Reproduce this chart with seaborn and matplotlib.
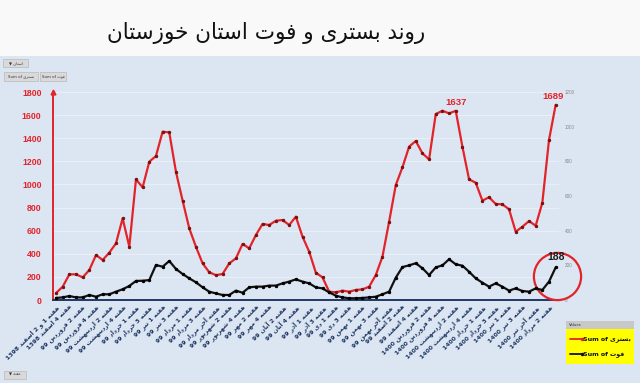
import seaborn as sns
import matplotlib.pyplot as plt
from matplotlib.patches import Rectangle
from matplotlib.transforms import ScaledTranslation

# Weekly admissions (بستری) and deaths (فوت) in Khuzestan
bastari = [60, 115, 222, 222, 196, 260, 389, 346, 410, 490,
           707, 461, 1044, 975, 1197, 1246, 1457, 1450, 1110, 860,
           620, 461, 317, 240, 215, 225, 317, 360, 485, 447,
           562, 658, 649, 686, 692, 649, 721, 548, 418, 236,
           196, 72, 66, 81, 72, 87, 92, 115, 216, 375,
           678, 995, 1148, 1327, 1376, 1269, 1217, 1609, 1638, 1615,
           1637, 1327, 1044, 1015, 860, 889, 831, 828, 785, 591,
           634, 683, 643, 842, 1385, 1689]
fot = [12, 15, 23, 15, 15, 29, 19, 33, 33, 48,
       62, 81, 110, 111, 115, 202, 192, 225, 179, 150,
       125, 102, 73, 48, 38, 29, 29, 54, 42, 73,
       77, 77, 83, 83, 96, 106, 119, 106, 96, 73,
       67, 44, 25, 15, 10, 10, 12, 15, 19, 33,
       48, 129, 190, 200, 212, 183, 144, 188, 200, 235,
       206, 198, 163, 125, 100, 77, 96, 77, 54, 67,
       52, 48, 67, 58, 106, 188]
weeks = list(range(len(bastari)))

# every other week is labelled on the axis
week_labels = ["هفته 1 و 2 اسفند 1398", "هفته 4 اسفند 1398", "هفته 2 فروردین 99", "هفته 4 فروردین 99",
               "هفته 2 اردیبهشت 99", "هفته 4 اردیبهشت 99", "هفته 1 خرداد 99", "هفته 3 خرداد 99",
               "هفته 1 تیر 99", "هفته 3 تیر 99", "هفته 1 مرداد 99", "هفته 3 مرداد 99",
               "هفته آخر مرداد 99", "هفته 2 شهریور 99", "هفته 4 شهریور 99", "هفته 2 مهر 99",
               "هفته 4 مهر 99", "هفته 2 آبان 99", "هفته 4 آبان 99", "هفته 1 آذر 99",
               "هفته 3 آذر 99", "هفته 1 دی 99", "هفته 3 دی 99", "هفته 1 بهمن 99",
               "هفته 3 بهمن 99", "هفته آخر بهمن 99", "هفته 2 اسفند 99", "هفته 4 اسفند 99",
               "هفته 2 فروردین 1400", "هفته 4 فروردین 1400", "هفته 2 اردیبهشت 1400", "هفته 4 اردیبهشت 1400",
               "هفته 1 خرداد 1400", "هفته 3 خرداد 1400", "هفته 1 تیر 1400", "هفته 3 تیر 1400",
               "هفته آخر تیر 1400", "هفته 2 مرداد 1400"]
left_ticks = list(range(0, 1801, 200))
right_ticks = list(range(0, 1201, 200))

title = "روند بستری و فوت استان خوزستان"

# matplotlib has no arabic shaping, so pick presentation forms by hand
# (isolated, final, initial, medial)
FORMS = {
    'ا': '\ufe8d\ufe8e', 'آ': '\ufe81\ufe82', 'د': '\ufea9\ufeaa', 'ذ': '\ufeab\ufeac',
    'ر': '\ufead\ufeae', 'ز': '\ufeaf\ufeb0', 'و': '\ufeed\ufeee',
    'ب': '\ufe8f\ufe90\ufe91\ufe92', 'ت': '\ufe95\ufe96\ufe97\ufe98', 'خ': '\ufea5\ufea6\ufea7\ufea8',
    'س': '\ufeb1\ufeb2\ufeb3\ufeb4', 'ش': '\ufeb5\ufeb6\ufeb7\ufeb8', 'ف': '\ufed1\ufed2\ufed3\ufed4',
    'م': '\ufee1\ufee2\ufee3\ufee4', 'ن': '\ufee5\ufee6\ufee7\ufee8', 'ه': '\ufee9\ufeea\ufeeb\ufeec',
    'ی': '\ufeef\ufef0\ufef3\ufef4',
}


def shape_word(w):
    out = []
    for i, c in enumerate(w):
        f = FORMS[c]
        prev_joins = i > 0 and len(FORMS[w[i - 1]]) == 4
        next_joins = len(f) == 4 and i < len(w) - 1
        out.append(f[int(prev_joins) + 2 * int(next_joins)])
    return ''.join(reversed(out))


def fa(text):
    tokens = [shape_word(t) if t[0] in FORMS else t for t in text.split(' ')]
    return ' '.join(reversed(tokens))


sns.set_theme(style="white")
plt.rcParams['font.family'] = ['DejaVu Sans']

RED = '#e3232a'
NAVY = '#1f3864'
num_font = 'Liberation Sans'

fig = plt.figure(figsize=(6.4, 3.83), dpi=100)
fig.patch.set_facecolor('#f9f9f9')
fig.add_artist(Rectangle((0, 0), 1, 1 - 56 / 383, transform=fig.transFigure,
                         facecolor='#dce6f2', edgecolor='none', zorder=-5))

fig.text(266 / 640, 1 - 33 / 383, fa(title), ha='center', va='center', fontsize=15.5, color='#111111')

ax = fig.add_axes([52.7 / 640, 1 - 300 / 383, 506.3 / 640, 208 / 383])
ax.set_facecolor('none')
ax2 = ax.twinx()

sns.lineplot(x=weeks, y=bastari, ax=ax, color=RED, lw=1.6, marker='o', markersize=1.7,
             markerfacecolor='#7a1010', markeredgecolor='#7a1010', errorbar=None, zorder=3)
sns.lineplot(x=weeks, y=fot, ax=ax2, color='#111111', lw=1.6, marker='o', markersize=1.7,
             markerfacecolor='#000000', markeredgecolor='#000000', errorbar=None, zorder=3)

ax.set_xlim(-0.5, len(weeks) - 0.5)
ax.set_ylim(0, 1800)
ax2.set_ylim(0, 1200)

ax.set_yticks(left_ticks)
ax.set_yticklabels([str(v) for v in left_ticks], color=RED, fontweight='bold', fontsize=6.3,
                   fontfamily=num_font)
ax.tick_params(axis='y', length=0, pad=8)
ax2.set_yticks(right_ticks)
ax2.set_yticklabels([str(v) for v in right_ticks], color='#8a8a8a', fontsize=3.3, fontfamily=num_font)
ax2.tick_params(axis='y', length=0, pad=4)

ax.set_xticks(weeks[::2])
ax.set_xticklabels([fa(s) for s in week_labels], rotation=45, ha='right', va='top',
                   rotation_mode='anchor', fontsize=4.4, fontweight='bold', color=NAVY)
ax.tick_params(axis='x', length=0, pad=3)

ax.yaxis.grid(True, color='#eaf0f8', lw=0.7)
ax.set_axisbelow(True)
for a in (ax, ax2):
    a.spines['top'].set_visible(False)
    a.spines['right'].set_visible(False)
    a.set_xlabel('')
    a.set_ylabel('')
ax2.spines['left'].set_visible(False)
ax2.spines['bottom'].set_visible(False)
ax.spines['left'].set_color(RED)
ax.spines['left'].set_linewidth(1.4)
ax.spines['bottom'].set_color(NAVY)
ax.spines['bottom'].set_linewidth(1.4)
# arrow head on the red axis
ax.plot([-0.5], [1800], marker='^', color=RED, markersize=3.5, clip_on=False)

# value call-outs
peak = bastari.index(1637)
ax.annotate('1637', xy=(peak, bastari[peak]), xytext=(0, 3), textcoords='offset points',
            ha='center', va='bottom', color=RED, fontweight='bold', fontsize=6.8, fontfamily=num_font)
ax.annotate(str(bastari[-1]), xy=(weeks[-1], bastari[-1]), xytext=(-2, 3), textcoords='offset points',
            ha='center', va='bottom', color=RED, fontweight='bold', fontsize=6.8, fontfamily=num_font)
ax2.annotate(str(fot[-1]), xy=(weeks[-1], fot[-1]), xytext=(0, 4), textcoords='offset points',
             ha='center', va='bottom', color='#1a1a1a', fontweight='bold', fontsize=7.5, fontfamily=num_font)
shift = ScaledTranslation(1 / 100, -9 / 100, fig.dpi_scale_trans)
ax2.plot([weeks[-1]], [fot[-1]], marker='o', markersize=34, markerfacecolor='none',
         markeredgecolor=RED, markeredgewidth=1.6, clip_on=False, transform=ax2.transData + shift)

# pivot-chart field buttons
def button(x, y, w, h, text):
    fig.add_artist(Rectangle((x / 640, 1 - (y + h) / 383), w / 640, h / 383, transform=fig.transFigure,
                             facecolor='#d9d9d9', edgecolor='#b0b0b0', lw=0.4))
    fig.text((x + w / 2) / 640, 1 - (y + h / 2) / 383, text, ha='center', va='center',
             fontsize=2.8, color='#333333')

button(3, 59, 25, 8, '▼ ' + fa('استان'))
button(4, 72, 34, 9, 'Sum of ' + fa('بستری'))
button(40, 72, 26, 9, 'Sum of ' + fa('فوت'))
button(4, 371, 22, 8, '▼ ' + fa('هفته'))

# legend box
fig.add_artist(Rectangle((566 / 640, 1 - 329 / 383), 68 / 640, 8 / 383, transform=fig.transFigure,
                         facecolor='#c8c8c8', edgecolor='none'))
fig.text(569 / 640, 1 - 325 / 383, 'Values', fontsize=2.8, color='#333333', va='center')
fig.add_artist(Rectangle((566 / 640, 1 - 364 / 383), 68 / 640, 35 / 383, transform=fig.transFigure,
                         facecolor='#ffff00', edgecolor='none'))
for yy, col, name in [(339, RED, 'بستری'), (354, '#111111', 'فوت')]:
    fig.add_artist(plt.Line2D([570 / 640, 582 / 640], [1 - yy / 383] * 2, color=col, lw=1.3,
                              marker='o', markersize=1.5, markevery=[1], transform=fig.transFigure))
    fig.text(583 / 640, 1 - yy / 383, 'Sum of ' + fa(name), fontsize=4.5, fontweight='bold',
             color='#111111', va='center')

fig.savefig('out.png', dpi=100)
